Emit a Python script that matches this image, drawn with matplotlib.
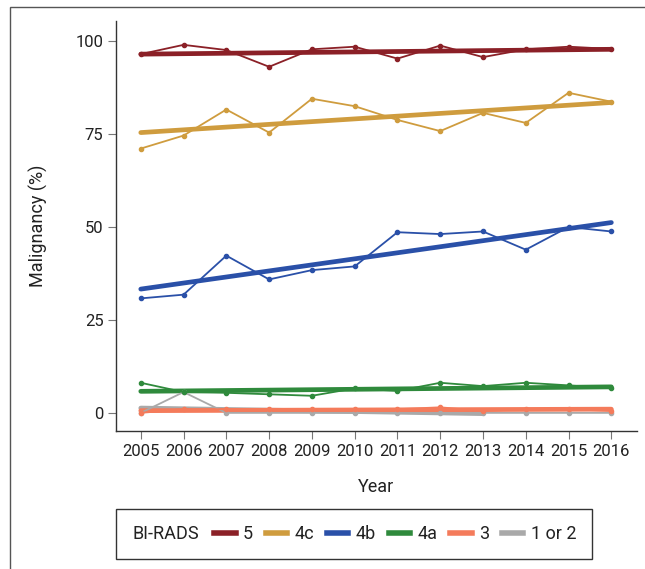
import matplotlib
matplotlib.use("Agg")
import matplotlib.pyplot as plt
from matplotlib.lines import Line2D
from matplotlib.patches import Rectangle

plt.rcParams['font.family'] = ['Roboto', 'DejaVu Sans']

# 数据
years = [2005, 2006, 2007, 2008, 2009, 2010, 2011, 2012, 2013, 2014, 2015, 2016]
cat_names = ['5', '4c', '4b', '4a', '3', '1 or 2']
cat_colors = ['#8b2027', '#cf9c3e', '#2a50a8', '#2f8a3c', '#f47b5b', '#a9a9a9']

mal_5 = [96.5, 99.0, 97.6, 93.1, 97.8, 98.5, 95.3, 98.8, 95.7, 97.8, 98.5, 97.9]
mal_4c = [71.1, 74.6, 81.6, 75.4, 84.5, 82.5, 78.8, 75.8, 80.7, 78.0, 86.1, 83.7]
mal_4b = [30.8, 31.8, 42.3, 35.9, 38.4, 39.4, 48.6, 48.1, 48.8, 43.9, 50.0, 48.8]
mal_4a = [8.1, 5.6, 5.4, 5.0, 4.6, 6.6, 5.9, 8.1, 7.2, 8.1, 7.4, 6.6]
mal_3 = [0.0, 1.0, 1.0, 1.0, 1.0, 1.0, 1.0, 1.5, 0.5, 1.0, 1.0, 0.5]
mal_12 = [0.0, 5.6, 0.0, 0.0, 0.0, 0.0, 0.0, 0.0, 0.0, 0.0, 0.0, 0.0]

# 线性趋势（起止年份与数值）
trend_x = [[2005, 2016], [2005, 2016], [2005, 2016], [2005, 2016], [2005, 2016], [2005, 2013]]
trend_y = [[96.5, 97.8], [75.4, 83.5], [33.3, 51.2], [5.8, 7.0], [0.6, 1.0], [1.3, -0.2]]

series = [mal_5, mal_4c, mal_4b, mal_4a, mal_3, mal_12]

fig = plt.figure(figsize=(6.45, 5.69), dpi=100)
ax = fig.add_axes([0.1798, 0.2417, 0.8078, 0.7213])

# 从底层往上画：灰、橙、绿、蓝、金、红
for i in reversed(range(len(series))):
    c = cat_colors[i]
    ax.plot(trend_x[i], trend_y[i], color=c, lw=3.4, solid_capstyle='round', zorder=2)
    ax.plot(years, series[i], color=c, lw=1.3, marker='o', markersize=3, zorder=3)

ax.set_xlim(2004.42, 2016.6)
ax.set_ylim(-5, 105.4)
ax.set_xticks(years)
ax.set_yticks([0, 25, 50, 75, 100])
ax.tick_params(axis='both', labelsize=12, length=6, color='#777777', labelcolor='#222222', pad=3)
ax.set_xlabel('Year', fontsize=13, color='#222222', labelpad=14)
ax.set_ylabel('Malignancy (%)', fontsize=13, color='#222222', labelpad=20)

for s in ['top', 'right']:
    ax.spines[s].set_visible(False)
for s in ['left', 'bottom']:
    ax.spines[s].set_color('#333333')
    ax.spines[s].set_linewidth(1.0)

# 图例：外框 + 标题文字 + 无框图例
fig.patches.append(Rectangle((116 / 645, 10 / 569), 476 / 645, 50 / 569,
                             transform=fig.transFigure, fill=False,
                             edgecolor='#333333', lw=1.0))
fig.text(132 / 645, 35 / 569, 'BI-RADS', fontsize=13, color='#222222',
         ha='left', va='center')
handles = [Line2D([], [], color=c, lw=4) for c in cat_colors]
leg = fig.legend(handles, cat_names, loc='center left',
                 bbox_to_anchor=(214 / 645, 35 / 569),
                 ncol=6, fontsize=13, frameon=False,
                 handlelength=1.2, handletextpad=0.4, columnspacing=0.7,
                 borderpad=0, borderaxespad=0)
for t in leg.get_texts():
    t.set_color('#222222')

# 外框
fig.patches.append(Rectangle((10 / 645, -0.1), 1.2, (569 - 7) / 569 + 0.1,
                             transform=fig.transFigure, fill=False,
                             edgecolor='#555555', lw=1.0))

fig.savefig('out.png', dpi=100, facecolor='white')
